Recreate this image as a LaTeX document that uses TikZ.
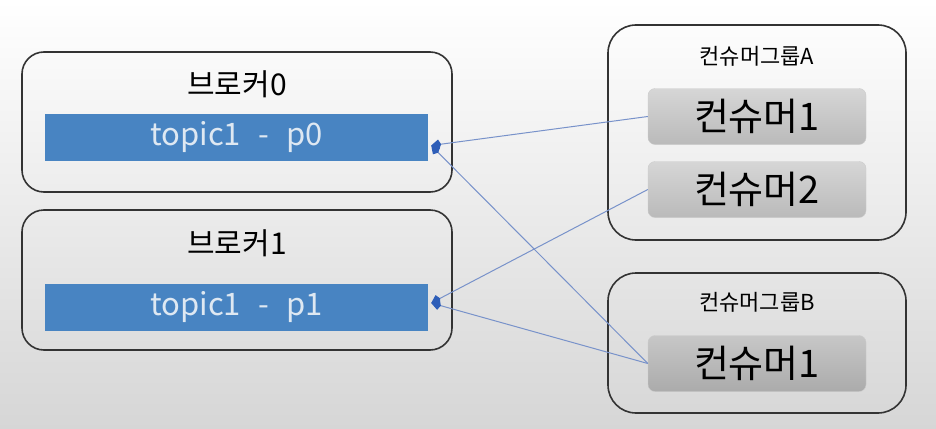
\documentclass[tikz,border=0pt]{standalone}
\usepackage{fontspec}
\setmainfont{Noto Sans CJK KR}
\usetikzlibrary{arrows.meta}
\definecolor{topicblue}{RGB}{72,132,194}
\definecolor{topictext}{RGB}{222,232,242}
\definecolor{linkblue}{RGB}{120,146,202}
\definecolor{tipblue}{RGB}{46,94,184}
\tikzset{
 broker/.style={draw=black!80,line width=1.6pt,rounded corners=22pt,minimum width=430pt,minimum height=140pt},
 group/.style={draw=black!80,line width=1.6pt,rounded corners=28pt,minimum width=298pt},
 topic/.style={fill=topicblue,text=topictext,font=\fontsize{31}{33}\selectfont,minimum width=383pt,minimum height=47pt,inner sep=0pt},
 consumer/.style={draw=black!20,rounded corners=7pt,top color=black!16,bottom color=black!27,minimum width=218pt,minimum height=56pt,font=\fontsize{38}{40}\selectfont,inner sep=0pt},
 link/.style={linkblue,line width=1pt,-{Kite[color=tipblue,fill=tipblue,length=10pt,width=10pt]}}
}
\begin{document}
\begin{tikzpicture}[x=1pt,y=-1pt]
\fill[top color=white,bottom color=black!16](0,0)rectangle(936,428);
\useasboundingbox(0,0)rectangle(936,428);
\node[broker](b0)at(237,122){};
\node[broker](b1)at(237,280){};
\node[font=\fontsize{30}{32}\selectfont](b0lbl)at(237,84){브로커0};
\node[font=\fontsize{30}{32}\selectfont](b1lbl)at(237,243){브로커1};
\node[topic](p0)at(236.5,137.5){topic1\,\, - \,\,p0};
\node[topic](p1)at(236.5,307){topic1\,\, - \,\,p1};
\node[group,minimum height=215pt](ga)at(757,132.5){};
\node[group,minimum height=140pt](gb)at(757,343){};
\node[font=\fontsize{22}{24}\selectfont](galbl)at(757,56){컨슈머그룹A};
\node[font=\fontsize{22}{24}\selectfont](gblbl)at(757,302){컨슈머그룹B};
\node[consumer](ca1)at(757,116.5){컨슈머1};
\node[consumer](ca2)at(757,189.5){컨슈머2};
\node[consumer,top color=black!22,bottom color=black!33](cb1)at(757,363.5){컨슈머1};
\draw[link](ca1.west)--([xshift=3pt,yshift=-8pt]p0.east);
\draw[link](cb1.west)--([xshift=3pt,yshift=-8pt]p0.east);
\draw[link](ca2.west)--([xshift=3pt,yshift=4pt]p1.east);
\draw[link](cb1.west)--([xshift=3pt,yshift=4pt]p1.east);
\end{tikzpicture}
\end{document}
